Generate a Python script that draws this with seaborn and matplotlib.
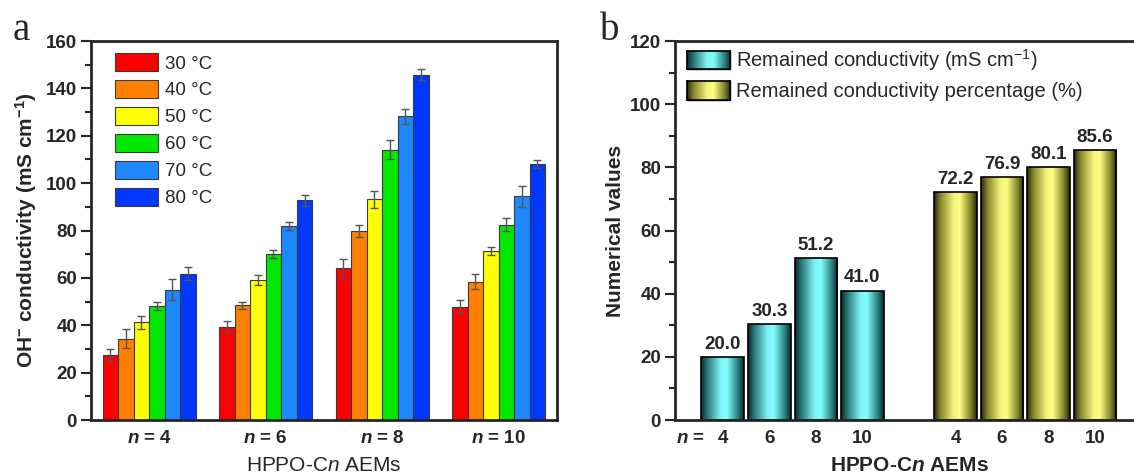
# ======================
# Import Libraries
# ======================

import numpy as np
import pandas as pd
import matplotlib
matplotlib.use("Agg")
import matplotlib.pyplot as plt
import seaborn as sns
from matplotlib.colors import LinearSegmentedColormap
from matplotlib.patches import Patch

# ======================
# Data
# ======================

n_labels = ["4", "6", "8", "10"]
temps = ["30 °C", "40 °C", "50 °C", "60 °C", "70 °C", "80 °C"]

# conductivity per n (rows) and temperature (columns)
cond = [
    [27.5, 34.3, 41.3, 48.1, 55.0, 61.8],
    [39.4, 48.4, 59.3, 70.1, 81.8, 92.8],
    [64.0, 79.8, 93.1, 114.2, 128.3, 145.8],
    [47.9, 58.4, 71.3, 82.4, 94.4, 108.0],
]
cond_err = [
    [2.5, 4.0, 2.8, 1.6, 4.5, 2.7],
    [2.3, 1.5, 2.1, 1.7, 1.7, 2.4],
    [4.1, 2.6, 3.7, 4.1, 3.2, 2.3],
    [2.6, 3.1, 1.8, 2.7, 4.3, 1.7],
]

remained_cond = [20.0, 30.3, 51.2, 41.0]
remained_pct = [72.2, 76.9, 80.1, 85.6]
series_b = ["Remained conductivity (mS cm$^{-1}$)",
            "Remained conductivity percentage (%)"]

temp_colors = ["#ff0000", "#ff8000", "#ffff00", "#00e800", "#1e88ff", "#0038ff"]

# ======================
# Style
# ======================

sns.set_style("ticks")
plt.rcParams["font.family"] = ["Liberation Sans", "DejaVu Sans"]
plt.rcParams["mathtext.fontset"] = "custom"
plt.rcParams["mathtext.rm"] = "Liberation Sans"
plt.rcParams["mathtext.bf"] = "Liberation Sans:bold"
plt.rcParams["mathtext.it"] = "Liberation Sans:italic"
plt.rcParams["mathtext.bfit"] = "Liberation Sans:italic:bold"
plt.rcParams["axes.linewidth"] = 2

TICK_FS = 13.5
LABEL_FS = 15

fig = plt.figure(figsize=(11.34, 4.76), dpi=100)
ax1 = fig.add_axes([0.0802, 0.1176, 0.4109, 0.7962])
ax2 = fig.add_axes([0.5952, 0.1176, 0.4127, 0.7962])

# ======================
# Panel a
# ======================

rows = []
for i, n in enumerate(n_labels):
    for j, t in enumerate(temps):
        rows.append({"n": n, "temp": t, "cond": cond[i][j]})
df_a = pd.DataFrame(rows)

sns.barplot(data=df_a, x="n", y="cond", hue="temp", palette=temp_colors,
            saturation=1, errorbar=None, width=0.8, edgecolor="#3a3a3a",
            linewidth=0.8, ax=ax1)

bar_containers = list(ax1.containers)
for j, container in enumerate(bar_containers):
    xs = [p.get_x() + p.get_width() / 2 for p in container.patches]
    ys = [cond[i][j] for i in range(len(n_labels))]
    es = [cond_err[i][j] for i in range(len(n_labels))]
    ax1.errorbar(xs, ys, yerr=es, fmt="none", ecolor="#555555",
                 elinewidth=1, capsize=3, capthick=1)

ax1.set_ylim(0, 160)
ax1.set_xlim(-0.5, 3.5)
ax1.set_yticks(np.arange(0, 161, 20))
ax1.set_yticks(np.arange(0, 161, 10), minor=True)
ax1.set_xticks(range(len(n_labels)))
ax1.set_xticklabels([r"$\mathbfit{n}$ = " + n for n in n_labels])
ax1.set_ylabel(r"OH$^{\mathbf{-}}$ conductivity (mS cm$^{\mathbf{-1}}$)",
               fontsize=LABEL_FS, fontweight="bold")
ax1.yaxis.set_label_coords(-0.112, 0.5)
ax1.set_xlabel(r"HPPO-C$\mathit{n}$ AEMs", fontsize=LABEL_FS)
ax1.xaxis.set_label_coords(0.5, -0.095)

handles_a = [Patch(facecolor=c, edgecolor="#3a3a3a", linewidth=0.8) for c in temp_colors]
ax1.legend(handles_a, temps, loc="upper left", frameon=False, fontsize=TICK_FS,
           handlelength=2.3, handleheight=1.1, labelspacing=0.4,
           handletextpad=0.35, borderpad=0, borderaxespad=0,
           bbox_to_anchor=(0.0515, 0.968))

# ======================
# Panel b
# ======================

slots_c = ["c" + n for n in n_labels]
slots_p = ["p" + n for n in n_labels]
df_b = pd.DataFrame({
    "slot": slots_c + slots_p,
    "value": remained_cond + remained_pct,
    "series": [series_b[0]] * 4 + [series_b[1]] * 4,
})
order_b = slots_c + ["gap"] + slots_p

sns.barplot(data=df_b, x="slot", y="value", hue="series", order=order_b,
            palette=["#40c0c0", "#e0e060"], saturation=1, dodge=False,
            width=0.92, edgecolor="black", linewidth=1.2, errorbar=None, ax=ax2)

cmaps = [
    LinearSegmentedColormap.from_list("cy", [(0, "#0c2828"), (0.15, "#2a7878"),
                                             (0.45, "#7ef2f2"), (0.6, "#82ffff"),
                                             (0.85, "#2c8686"), (1, "#0c2828")]),
    LinearSegmentedColormap.from_list("ye", [(0, "#28280c"), (0.15, "#86862c"),
                                             (0.45, "#f2f27a"), (0.6, "#ffff82"),
                                             (0.85, "#86862c"), (1, "#28280c")]),
]
grad = np.linspace(0, 1, 256).reshape(1, -1)

ax2.set_xlim(-1.03, 9.03)
ax2.set_ylim(0, 120)
ax2.set_autoscale_on(False)

for k, container in enumerate(list(ax2.containers)):
    for p in container.patches:
        x0, w, h = p.get_x(), p.get_width(), p.get_height()
        im = ax2.imshow(grad, extent=[x0, x0 + w, 0, h], aspect="auto",
                        cmap=cmaps[k], zorder=p.get_zorder() - 0.01)
        im.set_clip_path(p)
        p.set_facecolor("none")
    ax2.bar_label(container, fmt="%.1f", padding=3, fontsize=TICK_FS,
                  fontweight="bold")

ax2.set_yticks(np.arange(0, 121, 20))
ax2.set_yticks(np.arange(0, 121, 10), minor=True)
ax2.set_xticks(range(len(order_b)))
ax2.set_xticklabels(n_labels + [""] + n_labels)
ax2.text(-0.69, -0.026, r"$\mathbfit{n}$ =", transform=ax2.get_xaxis_transform(),
         ha="center", va="top", fontsize=TICK_FS, fontweight="bold")
ax2.set_ylabel("Numerical values", fontsize=LABEL_FS, fontweight="bold")
ax2.yaxis.set_label_coords(-0.106, 0.5)
ax2.set_xlabel(r"HPPO-C$\mathbfit{n}$ AEMs", fontsize=LABEL_FS, fontweight="bold")
ax2.xaxis.set_label_coords(0.5, -0.095)

handles_b = [Patch(facecolor="#40c0c0", edgecolor="black"),
             Patch(facecolor="#e0e060", edgecolor="black")]
leg_b = ax2.legend(handles_b, series_b, loc="upper left", frameon=False,
                   fontsize=14.5, handlelength=2.15, handleheight=1.05,
                   labelspacing=0.4, handletextpad=0.3, borderpad=0,
                   borderaxespad=0, bbox_to_anchor=(0.0256, 0.984))

# ======================
# Common axis styling
# ======================

for ax in (ax1, ax2):
    for side in ("top", "right", "left", "bottom"):
        ax.spines[side].set_visible(True)
        ax.spines[side].set_linewidth(2)
    ax.tick_params(axis="y", which="major", direction="out", length=7, width=1.5,
                   labelsize=TICK_FS, pad=3)
    ax.tick_params(axis="y", which="minor", direction="out", length=4, width=1.5)
    ax.tick_params(axis="x", length=0, labelsize=TICK_FS, pad=7)
    for lab in ax.get_xticklabels() + ax.get_yticklabels():
        lab.set_fontweight("bold")

# gradient legend swatches for panel b
fig.canvas.draw()
inv = fig.transFigure.inverted()
for k, patch in enumerate(leg_b.get_patches()):
    bb = patch.get_window_extent().transformed(inv)
    sw = fig.add_axes([bb.x0, bb.y0, bb.width, bb.height])
    sw.imshow(grad, aspect="auto", cmap=cmaps[k])
    sw.set_xticks([])
    sw.set_yticks([])
    for s in sw.spines.values():
        s.set_linewidth(1.2)
        s.set_color("black")

fig.text(0.011, 0.916, "a", fontsize=28, family="Liberation Serif", va="baseline")
fig.text(0.529, 0.916, "b", fontsize=28, family="Liberation Serif", va="baseline")

# ======================
# Save
# ======================

fig.savefig("out.png", dpi=100)
